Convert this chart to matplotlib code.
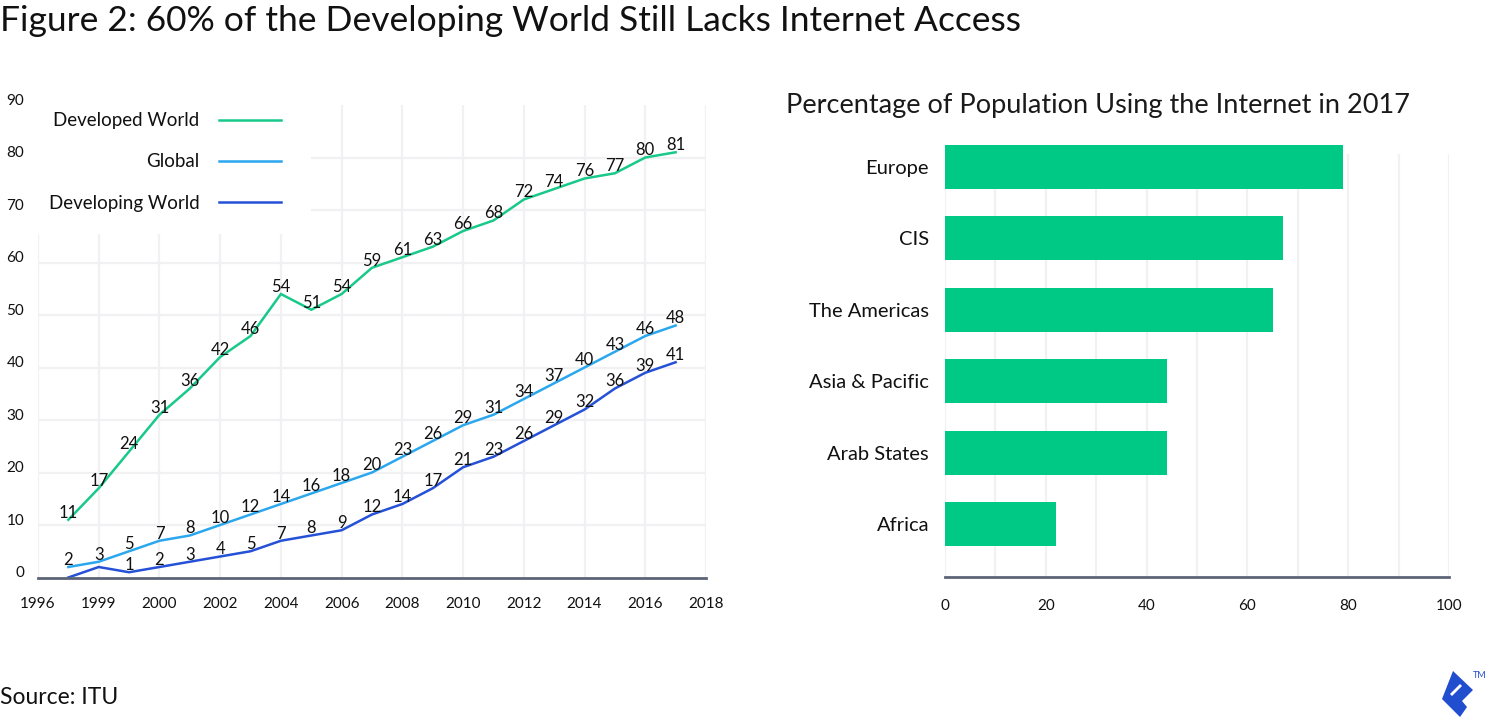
import matplotlib
matplotlib.use("Agg")
import matplotlib.pyplot as plt
from matplotlib.lines import Line2D
from matplotlib.patches import Polygon, Rectangle
from matplotlib.transforms import ScaledTranslation

plt.rcParams['font.family'] = ['Lato', 'DejaVu Sans']

# ---- data: internet use, % of population (ITU)
years = list(range(1997, 2018))
developed = [11, 17, 24, 31, 36, 42, 46, 54, 51, 54, 59, 61, 63, 66, 68, 72, 74, 76, 77, 80, 81]
global_ = [2, 3, 5, 7, 8, 10, 12, 14, 16, 18, 20, 23, 26, 29, 31, 34, 37, 40, 43, 46, 48]
developing = [0, 2, 1, 2, 3, 4, 5, 7, 8, 9, 12, 14, 17, 21, 23, 26, 29, 32, 36, 39, 41]
developing_labelled_from = 1999  # first two points carry no label in the source

x_ticks = [1996, 1998, 2000, 2002, 2004, 2006, 2008, 2010, 2012, 2014, 2016, 2018]
x_tick_labels = ['1996', '1999', '2000', '2002', '2004', '2006', '2008',
                 '2010', '2012', '2014', '2016', '2018']

regions = ['Europe', 'CIS', 'The Americas', 'Asia & Pacific', 'Arab States', 'Africa']
share_2017 = [79, 67, 65, 44, 44, 22]

GREEN = '#18c98a'
LIGHT_BLUE = '#2ba7ee'
DARK_BLUE = '#2551d6'
BAR_GREEN = '#00c985'
GRID = '#f1f1f3'
BASE = '#5c6475'
INK = '#111111'

W, H = 1490, 721
fig = plt.figure(figsize=(W / 100, H / 100), dpi=100)


def px(x0, y0, x1, y1):
    """axes rect from pixel box (top-left origin)"""
    return [x0 / W, 1 - y1 / H, (x1 - x0) / W, (y1 - y0) / H]


fig.text(0, 1 - 21 / H, 'Figure 2: 60% of the Developing World Still Lacks Internet Access',
         fontsize=25.5, va='center', ha='left', color=INK)
fig.text(0, 1 - 698 / H, 'Source: ITU', fontsize=16.5,
         va='center', ha='left', color=INK)

# ---- left: line chart
ax = fig.add_axes(px(38, 105, 706, 577.5))
ax.set_xlim(1996, 2018)
ax.set_ylim(0, 90)
ax.set_xticks(x_ticks)
ax.set_xticklabels(x_tick_labels)
ax.set_yticks(range(0, 91, 10))
ax.tick_params(length=0, labelsize=11, colors=INK)
ax.tick_params(axis='x', pad=14)
ax.tick_params(axis='y', pad=10)
for lab in ax.get_yticklabels():
    lab.set_transform(lab.get_transform() + ScaledTranslation(0, 4 / 72, fig.dpi_scale_trans))
ax.grid(True, color=GRID, lw=1.6)
ax.yaxis.get_gridlines()[0].set_visible(False)
ax.yaxis.get_gridlines()[-1].set_visible(False)
ax.set_axisbelow(True)
for s in ['top', 'right', 'left']:
    ax.spines[s].set_visible(False)
ax.spines['bottom'].set_color(BASE)
ax.spines['bottom'].set_linewidth(2)
ax.spines['bottom'].set_zorder(5)

# white panel behind the legend (hides the grid there)
ax.add_patch(Rectangle((1996, 65.4), 9.0, 26, facecolor='white', edgecolor='none',
                       zorder=2, clip_on=False))

series = [('Developed World', developed, GREEN),
          ('Global', global_, LIGHT_BLUE),
          ('Developing World', developing, DARK_BLUE)]
for name, vals, col in series:
    ax.plot(years, vals, color=col, lw=1.8, zorder=3, solid_joinstyle='miter')
    for yr, v in zip(years, vals):
        if vals is developing and yr < developing_labelled_from:
            continue
        ax.annotate(str(v), (yr, v), xytext=(0, 1.5), textcoords='offset points',
                    ha='center', va='baseline', fontsize=12, color=INK, zorder=4)

handles = [Line2D([], [], color=c, lw=1.8) for _, _, c in series]
leg = ax.legend(handles, [n for n, _, _ in series], loc='upper right',
                bbox_to_anchor=(0.3638, 0.985), markerfirst=False, frameon=False,
                fontsize=13.5, handlelength=3.3, handletextpad=1.05,
                labelspacing=1.3, borderpad=0, borderaxespad=0)
for t in leg.get_texts():
    t.set_color(INK)
leg.set_zorder(2.5)

# ---- right: bar chart
bx = fig.add_axes(px(945, 154, 1449, 577))
pos = list(range(len(regions)))
bx.barh(pos, share_2017, height=0.615, color=BAR_GREEN, zorder=3, clip_on=False)
bx.set_xlim(0, 100)
bx.set_ylim(5.74, -0.18)
bx.set_xticks(range(0, 101, 10))
bx.set_xticklabels([str(v) if v % 20 == 0 else '' for v in range(0, 101, 10)])
bx.set_yticks(pos)
bx.set_yticklabels(regions)
bx.tick_params(length=0, colors=INK)
bx.tick_params(axis='x', labelsize=11, pad=16)
bx.tick_params(axis='y', labelsize=14.5, pad=11.5)
bx.grid(True, axis='x', color=GRID, lw=1.6)
bx.set_axisbelow(True)
for s in ['top', 'right', 'left']:
    bx.spines[s].set_visible(False)
bx.spines['bottom'].set_color(BASE)
bx.spines['bottom'].set_linewidth(2)
bx.spines['bottom'].set_zorder(5)
fig.text(786 / W, 1 - 105 / H, 'Percentage of Population Using the Internet in 2017',
         fontsize=19.5, ha='left', va='center', color='#1a1a1a')

# ---- brand mark, bottom right
def fpts(pts):
    return [(x / W, 1 - y / H) for x, y in pts]

fig.patches.append(Polygon(fpts([(1453, 671), (1473, 690), (1462, 701), (1467, 707),
                                 (1460, 717), (1442, 699)]),
                           closed=True, facecolor='#204ecf', edgecolor='none',
                           transform=fig.transFigure, figure=fig))
fig.patches.append(Polygon(fpts([(1450, 694), (1460, 684), (1462, 686), (1452, 696)]),
                           closed=True, facecolor='white', edgecolor='none',
                           transform=fig.transFigure, figure=fig))
fig.text(1473 / W, 1 - 675 / H, 'TM', fontsize=6.5, color='#204ecf', ha='left', va='center')

fig.savefig('out.png', dpi=100, facecolor='white')
